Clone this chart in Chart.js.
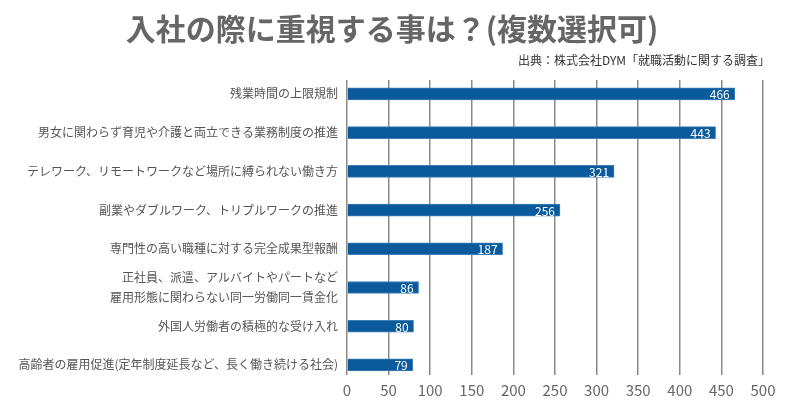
<!DOCTYPE html>
<html>
<head>
<meta charset="utf-8">
<script src="https://cdn.jsdelivr.net/npm/chart.js@4/dist/chart.umd.min.js"></script>
<style>
  html, body { margin: 0; padding: 0; background: #fff; }
  #wrap { width: 800px; height: 405px; position: relative; }
</style>
</head>
<body>
<div id="wrap"><canvas id="c"></canvas></div>
<script>
const categories = [
  "残業時間の上限規制",
  "男女に関わらず育児や介護と両立できる業務制度の推進",
  "テレワーク、リモートワークなど場所に縛られない働き方",
  "副業やダブルワーク、トリプルワークの推進",
  "専門性の高い職種に対する完全成果型報酬",
  ["正社員、派遣、アルバイトやパートなど", "雇用形態に関わらない同一労働同一賃金化"],
  "外国人労働者の積極的な受け入れ",
  "高齢者の雇用促進(定年制度延長など、長く働き続ける社会)"
];
const values = [466, 443, 321, 256, 187, 86, 80, 79];
const xTicks = [0, 50, 100, 150, 200, 250, 300, 350, 400, 450, 500];
const titleText = "入社の際に重視する事は？(複数選択可)";
const sourceText = "出典：株式会社DYM「就職活動に関する調査」";

const FONT = "'Noto Sans CJK JP', 'Noto Sans', sans-serif";

const headings = {
  id: 'headings',
  afterDraw(chart) {
    const ctx = chart.ctx;
    ctx.save();
    ctx.textBaseline = 'middle';
    ctx.font = "bold 30px " + FONT;
    ctx.fillStyle = '#666666';
    ctx.textAlign = 'center';
    ctx.fillText(titleText, 392, 29);
    ctx.font = "12px " + FONT;
    ctx.fillStyle = '#333333';
    ctx.textAlign = 'right';
    ctx.fillText(sourceText, 770, 60);
    ctx.restore();
  }
};

const valueLabels = {
  id: 'valueLabels',
  afterDatasetsDraw(chart) {
    const ctx = chart.ctx;
    const meta = chart.getDatasetMeta(0);
    ctx.save();
    ctx.font = "12px " + FONT;
    ctx.fillStyle = '#ffffff';
    ctx.textAlign = 'right';
    ctx.textBaseline = 'middle';
    meta.data.forEach((el, i) => {
      ctx.fillText(String(values[i]), el.x - 5, el.y + 1);
    });
    ctx.restore();
  }
};

new Chart(document.getElementById('c'), {
  type: 'bar',
  data: {
    datasets: [{
      data: values.map((v, i) => ({ x: v, y: i })),
      backgroundColor: '#0a5a9c',
      borderColor: '#3f7fb8',
      borderWidth: 1,
      borderSkipped: 'left',
      barThickness: 12
    }]
  },
  options: {
    indexAxis: 'y',
    responsive: true,
    maintainAspectRatio: false,
    animation: false,
    layout: { padding: { left: 0, right: 37, top: 80, bottom: 0 } },
    plugins: {
      legend: { display: false },
      tooltip: { enabled: false },
      title: { display: false },
      subtitle: { display: false }
    },
    scales: {
      x: {
        type: 'linear',
        min: 0,
        max: 500,
        afterBuildTicks: (s) => { s.ticks = xTicks.map(v => ({ value: v })); },
        grid: { color: '#8a8a8a', lineWidth: 1.5, drawTicks: false },
        border: { display: false },
        ticks: { color: '#666666', font: { family: FONT, size: 15 }, padding: 6 }
      },
      y: {
        type: 'linear',
        reverse: true,
        offset: false,
        min: -0.36,
        max: 7.26,
        afterFit: (s) => { s.width = 347; },
        grid: { display: false, drawTicks: false },
        border: { display: false },
        ticks: {
          stepSize: 1,
          includeBounds: false,
          autoSkip: false,
          padding: 9,
          color: '#555555',
          font: { family: FONT, size: 12, lineHeight: 1.65 },
          callback: (v) => Number.isInteger(v) && categories[v] !== undefined ? categories[v] : ''
        }
      }
    }
  },
  plugins: [valueLabels, headings]
});
</script>
</body>
</html>
